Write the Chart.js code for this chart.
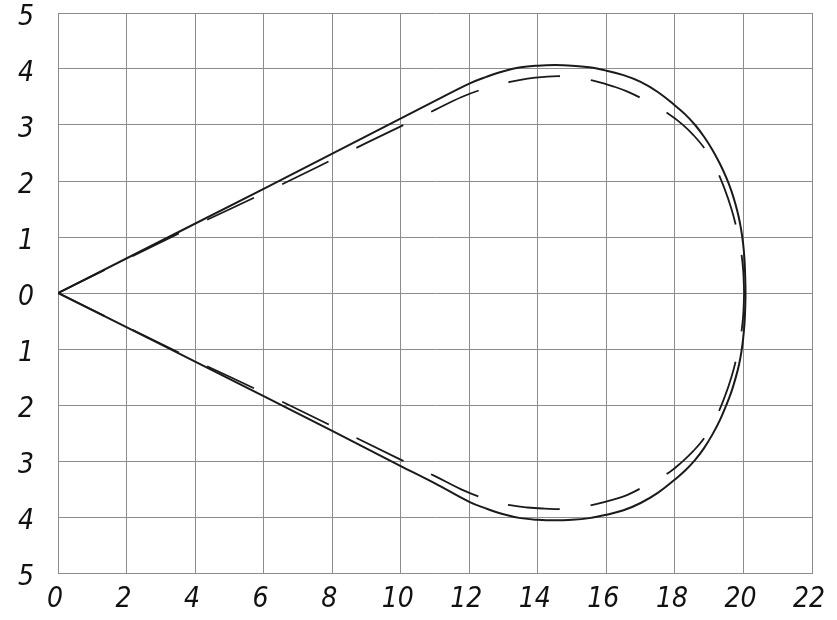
<!DOCTYPE html>
<html>
<head>
<meta charset="utf-8">
<script src="https://cdn.jsdelivr.net/npm/chart.js@4/dist/chart.umd.min.js"></script>
<style>
  html, body { margin: 0; padding: 0; background: #fff; }
  #wrap { width: 837px; height: 620px; position: relative; }
</style>
</head>
<body>
<div id="wrap"><canvas id="chartDrop"></canvas></div>
<script>
// tick labels (y shows distance from the axis, so no minus sign)
const xTickLabels = ['0','2','4','6','8','10','12','14','16','18','20','22'];
const yTickLabels = ['5','4','3','2','1','0','1','2','3','4','5'];

// solid outline: upper half from the origin round to the nose
const solidUpX = [0, 6, 11, 12, 12.5, 13, 13.5, 14, 14.5, 15, 15.5, 16, 16.5, 17, 17.5, 18, 18.3, 18.59, 18.85, 19.1, 19.32, 19.5, 19.65, 19.77, 19.86, 19.93, 19.99, 20.03, 20.05, 20.06];
const solidUpY = [0, 1.86, 3.43, 3.74, 3.86, 3.96, 4.03, 4.06, 4.07, 4.06, 4.03, 3.97, 3.89, 3.77, 3.59, 3.35, 3.19, 3.0, 2.79, 2.55, 2.30, 2.06, 1.82, 1.58, 1.36, 1.14, 0.88, 0.6, 0.3, 0];
// lower half, from the nose back to the origin
const solidLoX = [20.05, 20.03, 19.99, 19.94, 19.87, 19.77, 19.65, 19.5, 19.32, 19.1, 18.85, 18.59, 18.3, 18, 17.5, 17, 16.5, 16, 15.5, 15, 14.5, 14, 13.5, 13, 12.5, 12, 11, 10, 6, 0];
const solidLoY = [-0.28, -0.55, -0.82, -1.05, -1.28, -1.52, -1.76, -2.0, -2.26, -2.52, -2.77, -2.98, -3.17, -3.33, -3.57, -3.75, -3.88, -3.96, -4.02, -4.05, -4.06, -4.05, -4.02, -3.95, -3.85, -3.73, -3.40, -3.09, -1.84, 0];

// dashed outline (upper and lower halves, both from the origin)
const dashUpX = [0, 3.85, 6.23, 9, 11, 11.78, 12.5, 13.19, 13.7, 14.2, 14.7, 15.2, 15.7, 16.2, 16.6, 17.2, 17.86, 18.2, 18.54, 18.9, 19.2, 19.45, 19.65, 19.8, 19.92, 19.99, 20.02];
const dashUpY = [0, 1.16, 1.85, 2.68, 3.27, 3.50, 3.66, 3.77, 3.83, 3.86, 3.87, 3.84, 3.78, 3.69, 3.60, 3.42, 3.18, 3.02, 2.82, 2.55, 2.22, 1.86, 1.5, 1.15, 0.78, 0.42, 0];
const dashLoX = [0, 3.85, 6.23, 9.98, 11.0, 11.78, 12.5, 13.19, 13.7, 14.2, 14.7, 15.2, 15.7, 16.2, 16.6, 17.2, 17.86, 18.2, 18.54, 18.9, 19.2, 19.45, 19.65, 19.8, 19.92, 19.99, 20.02];
const dashLoY = [0, -1.16, -1.85, -2.97, -3.27, -3.51, -3.68, -3.79, -3.83, -3.85, -3.86, -3.83, -3.77, -3.69, -3.61, -3.42, -3.19, -3.02, -2.82, -2.55, -2.22, -1.86, -1.5, -1.15, -0.78, -0.42, 0];

const pts = (xs, ys) => xs.map((x, i) => ({ x, y: ys[i] }));

const labelFont = { family: "'Liberation Sans Narrow', 'DejaVu Sans Condensed', 'Liberation Sans', sans-serif", size: 28, style: 'italic' };
const gridColor = '#8c8c8c';

const lineStyle = {
  showLine: true,
  borderColor: '#1a1a1a',
  borderWidth: 2,
  pointRadius: 0,
  tension: 0.4,
  fill: false,
};

new Chart(document.getElementById('chartDrop').getContext('2d'), {
  type: 'scatter',
  data: {
    datasets: [
      { ...lineStyle, label: 'contour', data: pts(solidUpX.concat(solidLoX), solidUpY.concat(solidLoY)) },
      { ...lineStyle, label: 'dash upper', data: pts(dashUpX, dashUpY), borderDash: [52, 31], borderWidth: 1.8 },
      { ...lineStyle, label: 'dash lower', data: pts(dashLoX, dashLoY), borderDash: [52, 31], borderWidth: 1.8 },
    ]
  },
  options: {
    responsive: true,
    maintainAspectRatio: false,
    animation: false,
    layout: { padding: { top: 13, right: 25, left: 0, bottom: 0 } },
    plugins: { legend: { display: false }, tooltip: { enabled: false } },
    scales: {
      x: {
        type: 'linear', min: 0, max: 22,
        grid: { color: gridColor, lineWidth: 1, drawTicks: false },
        border: { color: gridColor, width: 1 },
        ticks: { stepSize: 2, color: '#111', font: labelFont, padding: 10, labelOffset: -3,
                 callback: (v) => xTickLabels[v / 2] },
        afterFit: (s) => { s.height = 47; s.paddingLeft = 0; s.paddingRight = 0; }
      },
      y: {
        type: 'linear', min: -5, max: 5,
        grid: { color: gridColor, lineWidth: 1, drawTicks: false },
        border: { color: gridColor, width: 1 },
        ticks: { stepSize: 1, color: '#111', font: labelFont, padding: 24, labelOffset: 5,
                 callback: (v) => yTickLabels[5 - v] },
        afterFit: (s) => { s.width = 58; s.paddingTop = 0; s.paddingBottom = 0; }
      }
    }
  }
});
</script>
</body>
</html>
